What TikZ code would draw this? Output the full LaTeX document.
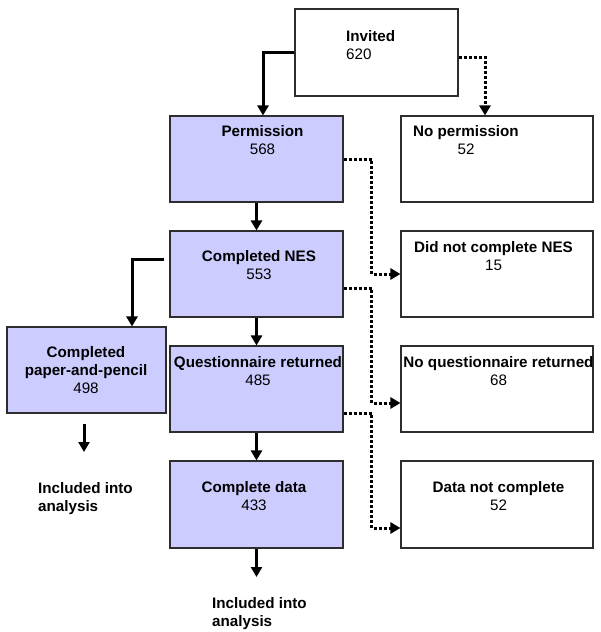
\documentclass[tikz,border=0pt]{standalone}
\usepackage{fontspec}
\setmainfont{Liberation Sans}
\usetikzlibrary{arrows.meta}
\definecolor{flowlilac}{RGB}{204,204,255}
\definecolor{flowedge}{RGB}{45,45,45}

\begin{document}
\begin{tikzpicture}[x=1pt,y=-1pt,
  box/.style={draw=flowedge,line width=1.1pt,minimum width=173pt,minimum height=86pt,inner sep=0pt},
  sidebox/.style={box,minimum width=192pt},
  kept/.style={box,fill=flowlilac},
  lbl/.style={anchor=north,align=center,inner sep=0pt,font=\fontsize{15.2}{18}\selectfont},
  mainarrow/.style={line width=3pt,-{Triangle[length=10pt,width=11pt]}},
  droparrow/.style={line width=3pt,dash pattern=on 3pt off 2pt,-{Triangle[length=10pt,width=11pt]}}]
\useasboundingbox (0,0) rectangle (600,632);

% Boxes
\node[box,minimum width=163pt,minimum height=87pt] (invited) at (376.5,52.5) {};
\node[kept] (perm) at (256.5,159) {};
\node[sidebox] (noperm) at (497,159) {};
\node[kept] (nes) at (256.5,274) {};
\node[sidebox] (didnot) at (497,274) {};
\node[kept,minimum width=159pt] (paper) at (86.5,370) {};
\node[kept] (quest) at (256.5,389) {};
\node[sidebox] (noq) at (497,389) {};
\node[kept,minimum height=87pt] (complete) at (256.5,504.5) {};
\node[sidebox,minimum height=87pt] (datanot) at (497,504.5) {};

% Texts
\node[lbl,anchor=north west,align=left] (invitedtxt) at (346,30) {\textbf{Invited}\\620};
\node[lbl] (permtxt) at ([xshift=6pt,yshift=-10pt]perm.north) {\textbf{Permission}\\568};
\node[lbl] (nopermtxt) at ([xshift=-31pt,yshift=-10pt]noperm.north) {\textbf{No permission}\\52};
\node[lbl] (nestxt) at ([xshift=2.5pt,yshift=-20pt]nes.north) {\textbf{Completed NES}\\553};
\node[lbl] (didnottxt) at ([xshift=-3.5pt,yshift=-11pt]didnot.north) {\textbf{Did not complete NES}\\15};
\node[lbl] (papertxt) at ([xshift=-0.5pt,yshift=-20pt]paper.north) {\textbf{Completed}\\\textbf{paper-and-pencil}\\498};
\node[lbl] (questtxt) at ([xshift=1.5pt,yshift=-11pt]quest.north) {\textbf{Questionnaire returned}\\485};
\node[lbl] (noqtxt) at ([xshift=1.5pt,yshift=-11pt]noq.north) {\textbf{No questionnaire returned}\\68};
\node[lbl] (completetxt) at ([xshift=-2.5pt,yshift=-21pt]complete.north) {\textbf{Complete data}\\433};
\node[lbl] (datanottxt) at ([xshift=1.5pt,yshift=-21pt]datanot.north) {\textbf{Data not complete}\\52};
\node[lbl,anchor=north west,align=left] (paperinc) at (38,482) {\textbf{Included into}\\\textbf{analysis}};
\node[lbl,anchor=north west,align=left] (dataninc) at (212,597) {\textbf{Included into}\\\textbf{analysis}};
\coordinate (paperend) at (84,452);
\coordinate (dataend) at (256.5,577);

% Kept in the study
\draw[mainarrow] (invited.west) -| ([xshift=6.5pt]perm.north);
\draw[mainarrow] (perm) -- (nes);
\draw[mainarrow] (nes) -- (quest);
\draw[mainarrow] (quest) -- (complete);
\draw[mainarrow] ([xshift=-5pt,yshift=15pt]nes.west) -| ([xshift=45.5pt]paper.north);
\draw[mainarrow] ([xshift=-2.5pt,yshift=-10pt]paper.south) -- (paperend);
\draw[mainarrow] (complete.south) -- (dataend);

% Dropped out
\draw[droparrow] ([yshift=-4.5pt]invited.east) -| ([xshift=-12pt]noperm.north);
\draw[droparrow] (perm.east) -- ++(28,0) |- (didnot.west);
\draw[droparrow] ([yshift=-14pt]nes.east) -- ++(28,0) |- ([yshift=-14pt]noq.west);
\draw[droparrow] ([yshift=-24pt]quest.east) -- ++(28,0) |- ([yshift=-23.5pt]datanot.west);
\end{tikzpicture}
\end{document}
